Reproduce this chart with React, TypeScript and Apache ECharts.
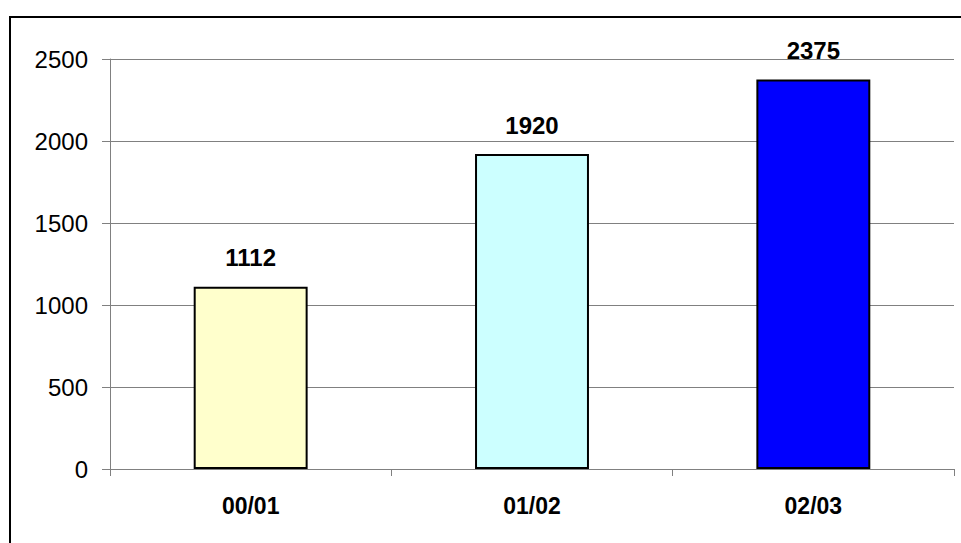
import React, { useEffect, useRef } from "react";
import * as echarts from "echarts";

const categories = ["00/01", "01/02", "02/03"];
const values = [1112, 1920, 2375];
const barColors = ["#FFFFCC", "#CCFFFF", "#0000FF"];
const yTicks = [0, 500, 1000, 1500, 2000, 2500];

export default function App() {
  const ref = useRef<HTMLDivElement>(null);
  useEffect(() => {
    if (!ref.current) return;
    const chart = echarts.init(ref.current, null, { renderer: "svg" });
    const font = "'Liberation Sans', Arial, Helvetica, sans-serif";
    chart.setOption({
      animation: false,
      backgroundColor: "#ffffff",
      grid: { left: 110, right: 7, top: 59, bottom: 74, containLabel: false },
      graphic: [
        {
          type: "line",
          shape: { x1: 10, y1: 17, x2: 961, y2: 17 },
          style: { stroke: "#000000", lineWidth: 2 },
          silent: true,
          z: 100,
        },
        {
          type: "line",
          shape: { x1: 10, y1: 16, x2: 10, y2: 543 },
          style: { stroke: "#000000", lineWidth: 2 },
          silent: true,
          z: 100,
        },
      ],
      xAxis: {
        type: "category",
        data: categories,
        boundaryGap: true,
        axisLine: { show: true, lineStyle: { color: "#808080", width: 1 } },
        axisTick: { show: true, length: 7, interval: 0, lineStyle: { color: "#808080" } },
        axisLabel: {
          margin: 25,
          fontSize: 23,
          fontWeight: "bold",
          color: "#000000",
          fontFamily: font,
        },
        splitLine: { show: false },
      },
      yAxis: {
        type: "value",
        min: yTicks[0],
        max: yTicks[yTicks.length - 1],
        interval: 500,
        axisLine: { show: true, lineStyle: { color: "#808080", width: 1 } },
        axisTick: { show: true, length: 8, lineStyle: { color: "#808080" } },
        axisLabel: {
          margin: 22,
          fontSize: 24,
          color: "#000000",
          fontFamily: font,
          formatter: (v: number) => String(v),
        },
        splitLine: { show: true, lineStyle: { color: "#808080", width: 1 } },
      },
      series: [
        {
          type: "bar",
          barWidth: "40.5%",
          data: values.map((v, i) => ({
            value: v,
            itemStyle: { color: barColors[i], borderColor: "#000000", borderWidth: 2 },
          })),
          label: {
            show: true,
            position: "top",
            distance: 17,
            fontSize: 24,
            fontWeight: "bold",
            color: "#000000",
            fontFamily: font,
            formatter: (p: any) => String(p.value),
          },
        },
      ],
    });
    return () => chart.dispose();
  }, []);
  return (
    <div
      ref={ref}
      style={{ position: "fixed", left: 0, top: 0, width: 961, height: 543 }}
    />
  );
}
